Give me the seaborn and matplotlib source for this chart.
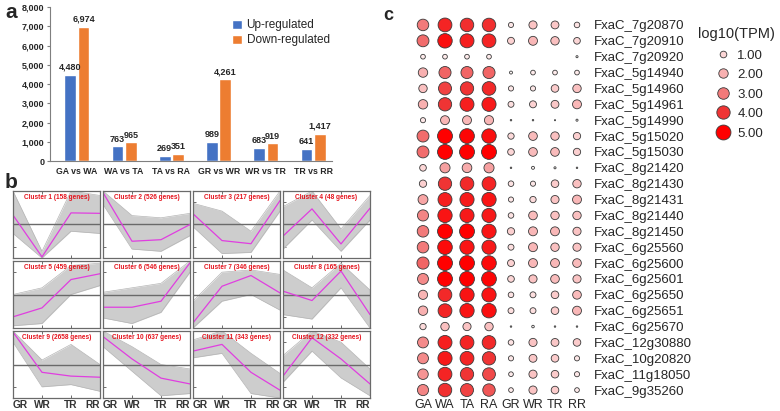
import matplotlib
matplotlib.use("Agg")
import matplotlib.pyplot as plt
import matplotlib.colors as mcolors
from matplotlib.lines import Line2D
from matplotlib.ticker import FuncFormatter
import pandas as pd
import seaborn as sns

# ---- panel a: DEG counts ----
comparisons = ["GA vs WA", "WA vs TA", "TA vs RA", "GR vs WR", "WR vs TR", "TR vs RR"]
up_regulated = [4480, 763, 269, 989, 683, 641]
down_regulated = [6974, 965, 351, 4261, 919, 1417]

# ---- panel b: expression clusters (z-score) ----
stages = ["GR", "WR", "TR", "RR"]
cluster_genes = [158, 526, 217, 48, 459, 546, 346, 165, 2658, 637, 343, 332]
cluster_mean = [
    [0.42, -1.45, 0.52, 0.50],
    [1.43, -0.75, -0.68, 0.00],
    [0.48, -0.72, -0.86, 1.07],
    [-0.52, 0.70, -0.87, 0.73],
    [-1.00, -0.60, 0.67, 0.93],
    [-0.57, -0.57, -0.30, 1.42],
    [-1.27, 0.37, 0.85, 0.07],
    [0.15, -0.27, 1.05, -0.90],
    [1.45, -0.35, -0.52, -0.57],
    [1.25, 0.25, -0.61, -0.87],
    [0.60, 0.90, -0.35, -1.15],
    [-0.52, 1.20, 0.25, -0.87],
]
cluster_upper = [
    [1.50, -1.20, 1.50, 1.30],
    [1.50, 0.40, 0.30, 0.50],
    [0.95, 0.60, -0.30, 1.50],
    [0.80, 1.50, -0.20, 1.30],
    [0.00, 0.30, 1.30, 1.40],
    [0.10, 0.30, 0.50, 1.50],
    [-0.30, 1.00, 1.10, 0.90],
    [1.10, 0.30, 1.40, 0.20],
    [1.50, 0.20, 0.90, 0.00],
    [1.50, 0.80, 0.00, -0.20],
    [1.10, 1.50, 0.50, -0.40],
    [0.40, 1.50, 1.00, -0.20],
]
cluster_lower = [
    [-0.40, -1.50, -0.30, -0.40],
    [0.90, -1.10, -1.20, -0.50],
    [-0.10, -1.30, -1.25, 0.60],
    [-1.10, 0.20, -1.20, 0.20],
    [-1.40, -1.30, 0.00, 0.40],
    [-1.05, -1.30, -0.80, 1.00],
    [-1.50, -0.30, 0.00, -0.70],
    [-0.90, -1.10, 0.30, -1.50],
    [1.00, -1.00, -0.90, -1.20],
    [0.80, -0.30, -1.40, -1.30],
    [0.30, 0.50, -1.30, -1.50],
    [-0.80, 0.60, -0.60, -1.40],
]

# ---- panel c: log10(TPM) bubbles ----
samples = ["GA", "WA", "TA", "RA", "GR", "WR", "TR", "RR"]
genes = ["FxaC_7g20870", "FxaC_7g20910", "FxaC_7g20920", "FxaC_5g14940",
         "FxaC_5g14960", "FxaC_5g14961", "FxaC_5g14990", "FxaC_5g15020",
         "FxaC_5g15030", "FxaC_8g21420", "FxaC_8g21430", "FxaC_8g21431",
         "FxaC_8g21440", "FxaC_8g21450", "FxaC_6g25560", "FxaC_6g25600",
         "FxaC_6g25601", "FxaC_6g25650", "FxaC_6g25651", "FxaC_6g25670",
         "FxaC_12g30880", "FxaC_10g20820", "FxaC_11g18050", "FxaC_9g35260"]
log_ga = [3.0, 3.2, 0.5, 2.0, 1.6, 2.0, 0.6, 3.2, 3.2, 1.0, 1.2, 2.2,
          2.8, 3.0, 3.0, 3.3, 2.7, 1.9, 2.0, 0.9, 2.7, 2.7, 2.5, 2.8]
log_wa = [4.3, 4.7, 0.5, 3.3, 3.8, 4.0, 1.8, 5.0, 5.2, 2.3, 4.0, 4.4,
          4.6, 5.0, 4.8, 5.2, 5.0, 4.2, 4.3, 1.6, 4.4, 4.5, 4.3, 4.1]
log_ta = [4.1, 4.4, 0.5, 3.3, 4.0, 4.4, 1.8, 4.9, 5.3, 2.1, 4.2, 4.5,
          4.5, 5.2, 4.6, 5.1, 5.0, 4.6, 4.6, 1.5, 4.3, 4.3, 4.0, 3.8]
log_ra = [4.1, 4.3, 0.5, 3.3, 4.2, 4.5, 1.9, 4.7, 5.1, 2.3, 4.3, 4.6,
          4.5, 4.6, 4.5, 4.8, 4.9, 4.6, 4.7, 1.6, 4.2, 4.0, 3.7, 3.5]
log_gr = [0.6, 1.1, 0.0, 0.2, 0.6, 0.8, 0.05, 0.9, 1.0, 0.05, 0.7, 0.6,
          0.7, 1.2, 0.8, 1.1, 1.0, 0.7, 0.8, 0.05, 0.7, 0.6, 0.5, 0.5]
log_wr = [1.5, 1.8, 0.0, 0.5, 0.6, 1.1, 0.05, 1.7, 1.7, 0.2, 0.6, 0.9,
          1.7, 1.8, 1.8, 1.8, 1.5, 0.8, 0.8, 0.15, 1.5, 1.4, 1.5, 1.5]
log_tr = [1.4, 1.6, 0.0, 0.5, 1.3, 1.4, 0.03, 1.6, 1.7, 0.1, 1.3, 1.5,
          1.6, 1.8, 1.6, 1.8, 1.7, 1.3, 1.3, 0.05, 1.4, 1.3, 1.3, 1.3]
log_rr = [0.7, 1.0, 0.1, 0.5, 1.6, 1.8, 0.1, 1.2, 1.2, 0.05, 1.6, 1.8,
          1.6, 1.5, 1.5, 1.7, 1.5, 1.7, 1.8, 0.05, 1.3, 0.6, 0.6, 0.5]
legend_values = [1.0, 2.0, 3.0, 4.0, 5.0]

sns.set_style("white")
plt.rcParams["font.family"] = ["Liberation Sans", "DejaVu Sans"]

W, H = 780, 411
fig = plt.figure(figsize=(W / 100, H / 100), dpi=100)


def box(left, top, width, height):
    return [left / W, 1 - (top + height) / H, width / W, height / H]


# ================= panel a =================
axa = fig.add_axes(box(50, 7, 282, 154))
df_a = pd.DataFrame({
    "comparison": comparisons * 2,
    "count": up_regulated + down_regulated,
    "type": ["Up-regulated"] * len(comparisons) + ["Down-regulated"] * len(comparisons),
})
sns.barplot(data=df_a, x="comparison", y="count", hue="type",
            palette=["#4472c4", "#ed7d31"], saturation=1, width=0.56, gap=0.1,
            ax=axa, legend=True)
for cont in axa.containers:
    axa.bar_label(cont, labels=[f"{int(v):,}" for v in cont.datavalues],
                  fontsize=6.5, fontweight="bold", padding=2)
axa.set_ylim(0, 8000)
axa.set_yticks(range(0, 8001, 1000))
axa.yaxis.set_major_formatter(FuncFormatter(lambda v, p: f"{int(v):,}"))
axa.set_xlim(-0.57, 5.4)
axa.set_xlabel("")
axa.set_ylabel("")
for s in ["top", "right"]:
    axa.spines[s].set_visible(False)
for s in ["left", "bottom"]:
    axa.spines[s].set_color("#7f7f7f")
    axa.spines[s].set_linewidth(0.8)
axa.tick_params(axis="y", labelsize=6.5, length=2, color="#7f7f7f", pad=2, left=True)
axa.tick_params(axis="x", labelsize=6.3, length=0, pad=4)
for lab in axa.get_xticklabels() + axa.get_yticklabels():
    lab.set_fontweight("bold")
axa.legend(loc="upper left", bbox_to_anchor=(0.63, 0.95), frameon=False,
           fontsize=8.5, handlelength=0.8, handleheight=0.8,
           handletextpad=0.4, labelspacing=0.25, borderaxespad=0)

# ================= panel b =================
col_left = [13, 103, 193, 283]
row_top = [191, 261, 331]
for i in range(12):
    r, c = divmod(i, 4)
    ax = fig.add_axes(box(col_left[c], row_top[r], 87, 67))
    xs = list(range(len(stages)))
    ax.fill_between(xs, cluster_lower[i], cluster_upper[i], color="#cdcdcd", lw=0)
    ax.plot(xs, cluster_upper[i], color="#b5b5b5", lw=0.5)
    ax.plot(xs, cluster_lower[i], color="#b5b5b5", lw=0.5)
    ax.axhline(0, color="#6a6a6a", lw=1.0)
    sns.lineplot(x=xs, y=cluster_mean[i], color="#e03ee0", lw=0.9, ax=ax)
    ax.set_xlim(0, 3)
    ax.set_ylim(-1.5, 1.5)
    ax.set_yticks([-1, 0, 1])
    ax.set_yticklabels([])
    ax.set_xticks(xs)
    ax.set_xticklabels([])
    ax.tick_params(direction="in", length=2, width=0.6, color="#555555",
                   left=True, bottom=True, top=True)
    if r == 2:
        for k, st in enumerate(stages):
            ha = "left" if k == 0 else ("right" if k == len(stages) - 1 else "center")
            ax.annotate(st, xy=(k, -1.5), xytext=(0, -1.5), textcoords="offset points",
                        ha=ha, va="top", fontsize=7.3, fontweight="bold",
                        color="#333333", annotation_clip=False)
    for s in ax.spines.values():
        s.set_color("#6a6a6a")
        s.set_linewidth(0.9)
    ax.text(0.5, 0.9, f"Cluster {i + 1} ({cluster_genes[i]} genes)",
            transform=ax.transAxes, ha="center", va="center",
            fontsize=4.7, fontweight="bold", color="#e5141e")

# ================= panel c =================
axc = fig.add_axes(box(409.8, 17, 180.4, 381))
cmap = mcolors.LinearSegmentedColormap.from_list(
    "tpm", ["#ffffff", "#fcd6d6", "#f8b0b0", "#f27a7a", "#ef3434", "#ff0000"])
cols = [log_ga, log_wa, log_ta, log_ra, log_gr, log_wr, log_tr, log_rr]
rows = []
for j, vals in enumerate(cols):
    for k, v in enumerate(vals):
        if v > 0:
            rows.append({"x": j, "y": k, "value": v})
df_c = pd.DataFrame(rows)
size_scale = 23
sns.scatterplot(data=df_c, x="x", y="y", hue="value", size="value",
                hue_norm=(0, 5), size_norm=(0, 5), sizes=(0, 5 * size_scale),
                palette=cmap, edgecolor="#3a3a3a", linewidth=0.6,
                legend=False, ax=axc)
axc.set_xlim(-0.6, 7.6)
axc.set_ylim(len(genes) - 0.5, -0.5)
axc.set_xticks(range(len(samples)))
axc.set_xticklabels(samples, fontsize=9)
axc.set_yticks(range(len(genes)))
axc.set_yticklabels(genes, fontsize=9.5)
axc.yaxis.tick_right()
axc.tick_params(length=0, pad=1)
axc.tick_params(axis="y", pad=3)
axc.set_xlabel("")
axc.set_ylabel("")
for s in axc.spines.values():
    s.set_visible(False)

handles = [Line2D([], [], ls="", marker="o", markersize=(size_scale * v) ** 0.5,
                  markerfacecolor=cmap(v / 5), markeredgecolor="#3a3a3a",
                  markeredgewidth=0.6) for v in legend_values]
leg = fig.legend(handles, [f"{v:.2f}" for v in legend_values], title="log10(TPM)",
                 loc="upper left", bbox_to_anchor=(698 / W, 1 - 27 / H), frameon=False,
                 fontsize=9.5, title_fontsize=10.5, labelspacing=0.55,
                 handletextpad=0.1, borderaxespad=0, borderpad=0)
leg._legend_box.sep = 6

# panel letters
fig.text(5 / W, 1 - 12 / H, "a", fontsize=15, fontweight="bold", va="center")
fig.text(5 / W, 1 - 182 / H, "b", fontsize=15, fontweight="bold", va="center")
fig.text(383 / W, 1 - 15 / H, "c", fontsize=13, fontweight="bold", va="center")

fig.savefig("out.png", dpi=100)
